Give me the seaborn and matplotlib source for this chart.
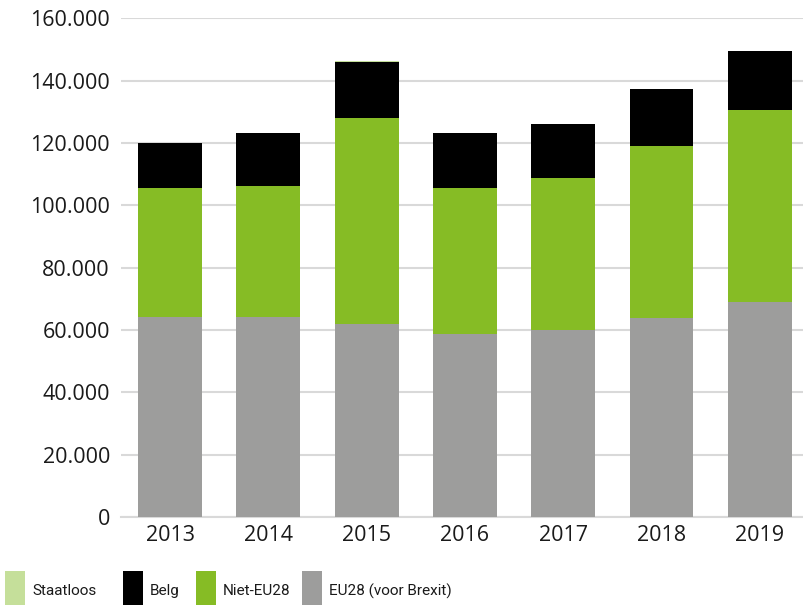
import pandas as pd
import matplotlib.pyplot as plt
import matplotlib.ticker as mticker
from matplotlib.patches import Rectangle
import seaborn as sns

# Data
years = ["2013", "2014", "2015", "2016", "2017", "2018", "2019"]
eu28 = [64000, 64100, 61900, 58700, 60000, 63800, 68900]
niet_eu28 = [41500, 42000, 66000, 46800, 48700, 55200, 61600]
belg = [14400, 17000, 18000, 17600, 17300, 18200, 18900]
staatloos = [200, 200, 300, 200, 200, 200, 200]

colors = {
    "Staatloos": "#c5df9a",
    "Belg": "#000000",
    "Niet-EU28": "#86bc25",
    "EU28 (voor Brexit)": "#9d9d9c",
}

df = pd.DataFrame({
    "year": years,
    "EU28 (voor Brexit)": eu28,
    "Niet-EU28": niet_eu28,
    "Belg": belg,
    "Staatloos": staatloos,
})

# cumulative totals for stacking (draw from top layer down)
df["c_eu"] = df["EU28 (voor Brexit)"]
df["c_niet"] = df["c_eu"] + df["Niet-EU28"]
df["c_belg"] = df["c_niet"] + df["Belg"]
df["c_staat"] = df["c_belg"] + df["Staatloos"]

sns.set_style("white")
plt.rcParams["font.family"] = ["Open Sans", "DejaVu Sans"]

fig = plt.figure(figsize=(8.04, 6.05), dpi=100)
ax = fig.add_axes([0.1505, 0.1455, 0.8495, 0.8245])

for col, name in [("c_staat", "Staatloos"), ("c_belg", "Belg"),
                  ("c_niet", "Niet-EU28"), ("c_eu", "EU28 (voor Brexit)")]:
    sns.barplot(data=df, x="year", y=col, color=colors[name], width=0.65,
                saturation=1, linewidth=0, ax=ax, zorder=3)

ax.set_ylim(0, 160000)
ax.set_yticks(range(0, 160001, 20000))
ax.yaxis.set_major_formatter(mticker.FuncFormatter(lambda v, p: f"{int(v):,}".replace(",", ".")))
ax.set_xlim(-0.5, 6.45)
ax.set_xlabel("")
ax.set_ylabel("")
ax.grid(axis="y", color="#d9d9d9", linewidth=1.5, zorder=0)
ax.set_axisbelow(True)
for s in ["left", "right", "top"]:
    ax.spines[s].set_visible(False)
ax.spines["bottom"].set_color("#d9d9d9")
ax.spines["bottom"].set_linewidth(1.5)
ax.tick_params(axis="both", length=0, labelsize=15.5, colors="#1a1a1a")
ax.tick_params(axis="y", pad=8)
ax.tick_params(axis="x", pad=6)

# legend drawn by hand to get the uneven spacing of the original
W, H = 804, 605
legend_x = [5, 123, 196, 302]
for x0, name in zip(legend_x, colors):
    fig.patches.append(Rectangle((x0 / W, 0), 20 / W, 34 / H, transform=fig.transFigure,
                                 facecolor=colors[name], edgecolor="none"))
    fig.text((x0 + 27) / W, 14 / H, name, fontsize=11, color="#1a1a1a",
             family=["Roboto", "DejaVu Sans"], va="center")

plt.savefig("out.png", dpi=100)
